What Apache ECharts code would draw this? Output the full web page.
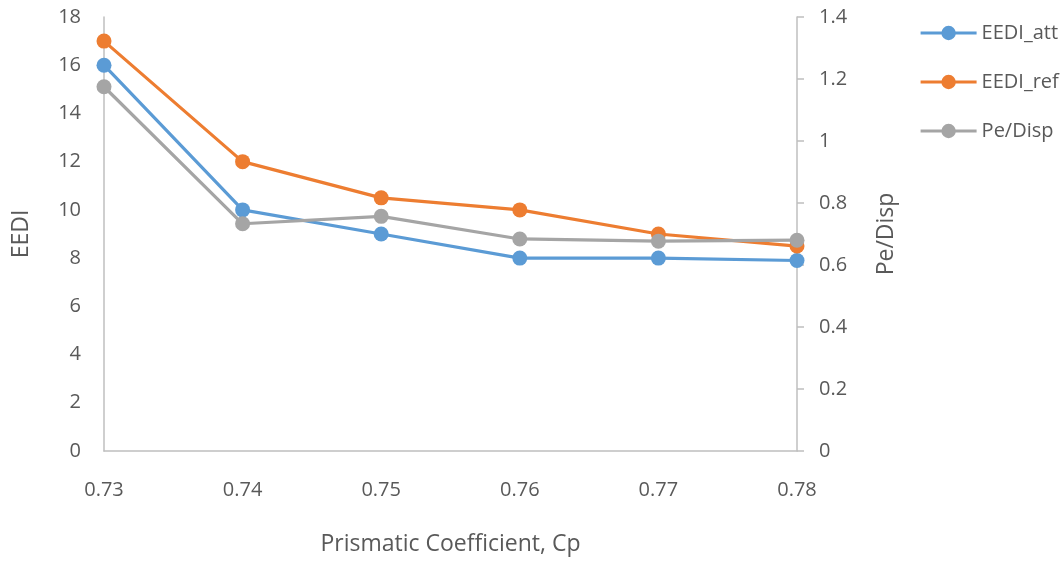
<!DOCTYPE html>
<html>
<head>
<meta charset="utf-8">
<script src="https://cdn.jsdelivr.net/npm/echarts@6/dist/echarts.min.js"></script>
<style>
  html, body { margin: 0; padding: 0; background: #fff; }
  #chart { width: 1064px; height: 561px; }
</style>
</head>
<body>
<div id="chart"></div>
<script>
// Prismatic coefficient values on the x axis
const categories = ['0.73', '0.74', '0.75', '0.76', '0.77', '0.78'];
// EEDI (left axis)
const eediAtt = [16, 10, 9, 8, 8, 7.9];
const eediRef = [17, 12, 10.5, 10, 9, 8.5];
// Pe/Disp (right axis)
const peDisp = [1.175, 0.733, 0.757, 0.684, 0.677, 0.68];

const FONT = '"Open Sans", "Noto Sans", sans-serif';
const TEXT = '#595959';
const AXIS = '#BFBFBF';

const chart = echarts.init(document.getElementById('chart'), null, { renderer: 'canvas' });

function lineSeries(name, data, color, axisIndex) {
  return {
    name, type: 'line', data, yAxisIndex: axisIndex,
    symbol: 'circle', symbolSize: 15,
    lineStyle: { color, width: 3.2 },
    itemStyle: { color },
    emphasis: { disabled: true },
    animation: false
  };
}

chart.setOption({
  animation: false,
  textStyle: { fontFamily: FONT },
  grid: { left: 104, right: 267, top: 17, bottom: 110, outerBoundsMode: 'none', containLabel: false },
  legend: {
    orient: 'vertical',
    left: 914, top: 18,
    itemWidth: 56, itemHeight: 18, itemGap: 29,
    lineStyle: { width: 3.2 },
    textStyle: { color: TEXT, fontSize: 20, fontFamily: FONT },
    data: ['EEDI_att', 'EEDI_ref', 'Pe/Disp']
  },
  xAxis: {
    type: 'category',
    data: categories,
    boundaryGap: false,
    axisLine: { lineStyle: { color: AXIS, width: 1.5 } },
    axisTick: { show: false },
    axisLabel: { color: TEXT, fontSize: 20, margin: 29 },
    name: 'Prismatic Coefficient, Cp',
    nameLocation: 'middle', nameGap: 82,
    nameTextStyle: { color: TEXT, fontSize: 23 }
  },
  yAxis: [
    {
      type: 'value', min: 0, max: 18, interval: 2,
      axisLine: { show: true, lineStyle: { color: AXIS, width: 1.5 } },
      axisTick: { show: false },
      splitLine: { show: false },
      axisLabel: { color: TEXT, fontSize: 20, margin: 23 },
      name: 'EEDI', nameLocation: 'middle', nameGap: 71, nameRotate: 90,
      nameTextStyle: { color: TEXT, fontSize: 23 }
    },
    {
      type: 'value', min: 0, max: 1.4, interval: 0.2,
      position: 'right',
      axisLine: { show: true, lineStyle: { color: AXIS, width: 1.5 } },
      axisTick: { show: true, length: 7, lineStyle: { color: AXIS, width: 1.5 } },
      splitLine: { show: false },
      axisLabel: { color: TEXT, fontSize: 20, margin: 22,
        formatter: v => String(Math.round(v * 10) / 10) },
      name: 'Pe/Disp', nameLocation: 'middle', nameGap: 78, nameRotate: 90,
      nameTextStyle: { color: TEXT, fontSize: 23 }
    }
  ],
  series: [
    lineSeries('EEDI_att', eediAtt, '#5B9BD5', 0),
    lineSeries('EEDI_ref', eediRef, '#ED7D31', 0),
    lineSeries('Pe/Disp', peDisp, '#A5A5A5', 1)
  ]
});
</script>
</body>
</html>
